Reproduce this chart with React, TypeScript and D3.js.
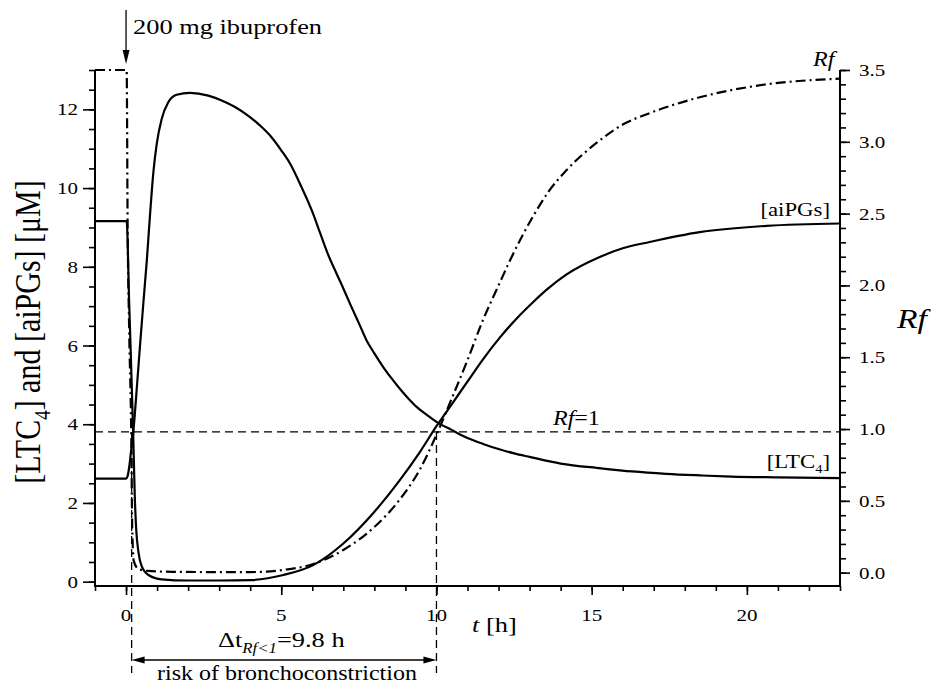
import React, { useEffect, useRef } from 'react';
import * as d3 from 'd3';

// [LTC4] time course (t in h, value in uM)
const ltcT = [-1, 0, 0.05, 0.1, 0.16, 0.23, 0.35, 0.45, 0.56, 0.67, 0.78, 0.88, 0.99, 1.15, 1.36, 1.63, 2.06, 2.65, 3.1, 3.51, 3.95, 4.37, 4.7, 5.0, 5.3, 5.65, 6.0, 6.26, 6.5, 6.78, 7.0, 7.21, 7.5, 7.75, 8.0, 8.28, 8.55, 8.82, 9.1, 9.36, 9.7, 10.0, 10.5, 11.0, 11.5, 12.0, 12.5, 13.0, 14.0, 15.3, 16.3, 17.4, 18.5, 19.5, 21, 23];
const ltcV = [2.62, 2.62, 2.68, 2.9, 3.3, 3.77, 4.95, 6.0, 7.1, 8.17, 9.4, 10.4, 11.13, 11.76, 12.18, 12.37, 12.42, 12.35, 12.22, 12.06, 11.83, 11.55, 11.28, 10.96, 10.6, 10.03, 9.4, 8.84, 8.33, 7.83, 7.45, 7.07, 6.57, 6.13, 5.8, 5.46, 5.17, 4.9, 4.65, 4.44, 4.23, 4.06, 3.85, 3.65, 3.5, 3.37, 3.26, 3.17, 3.0, 2.88, 2.8, 2.74, 2.7, 2.67, 2.65, 2.63];

// [aiPGs] time course
const pgT = [-1, 0.02, 0.1, 0.23, 0.28, 0.33, 0.4, 0.5, 0.72, 1.15, 2.0, 3.0, 4.0, 5.07, 6.03, 7.0, 7.96, 8.82, 9.47, 10.0, 10.53, 10.97, 11.5, 12.04, 12.6, 13.11, 13.6, 14.18, 15.26, 16.0, 16.87, 18.48, 20.63, 23];
const pgV = [9.16, 9.16, 7.1, 3.77, 2.2, 1.3, 0.75, 0.4, 0.17, 0.06, 0.03, 0.03, 0.04, 0.17, 0.42, 0.97, 1.74, 2.58, 3.3, 3.95, 4.55, 5.05, 5.65, 6.2, 6.7, 7.1, 7.45, 7.8, 8.25, 8.47, 8.63, 8.88, 9.04, 9.1];

// Rf (right axis)
const rfT = [-1, 0.02, 0.05, 0.1, 0.17, 0.2, 0.25, 0.4, 0.7, 1.5, 3.0, 4.0, 5.07, 6.03, 7.0, 7.96, 8.82, 9.47, 10.0, 10.43, 11.0, 11.5, 12.0, 12.36, 13.11, 13.6, 14.18, 15.26, 16.0, 16.87, 18.48, 20.63, 23];
const rfV = [3.5, 3.5, 2.45, 1.7, 0.92, 0.3, 0.08, 0.025, 0.012, 0.006, 0.004, 0.004, 0.019, 0.06, 0.158, 0.31, 0.51, 0.72, 0.96, 1.18, 1.48, 1.76, 2.0, 2.17, 2.48, 2.65, 2.8, 3.01, 3.12, 3.2, 3.31, 3.4, 3.44];

// ticks
const xMajor = [0, 5, 10, 15, 20];
const xMinor = d3.range(-1, 23.01, 1);
const leftMajor = [0, 2, 4, 6, 8, 10, 12];
const leftMinor = d3.range(0, 13.01, 0.5);
const rightMajor = [0, 0.5, 1, 1.5, 2, 2.5, 3, 3.5];
const rightMinor = d3.range(0, 3.501, 0.1);

// annotations
const rfThreshold = 0.98;
const riskStart = 0.18;
const riskEnd = 10.0;
const doseTime = 0;

const serif = '"Liberation Serif", "Times New Roman", serif';
const sx = 1.2; // picture is stretched horizontally

const App = () => {
  const svgRef = useRef<SVGSVGElement>(null);

  useEffect(() => {
    const svg = d3.select(svgRef.current);
    svg.selectAll('*').remove();

    const x = d3.scaleLinear().domain([-1, 23]).range([95, 840]);
    const yL = d3.scaleLinear().domain([-0.11, 13]).range([586, 70]);
    const yR = d3.scaleLinear().domain([-0.093, 3.5]).range([586, 70]);

    const put = (px: number, py: number, size: number, anchor = 'start', rot = false) =>
      svg.append('text')
        .attr('transform', rot
          ? `translate(${px},${py}) rotate(-90) scale(1,${sx})`
          : `translate(${px},${py}) scale(${sx},1)`)
        .attr('font-size', size)
        .attr('font-family', serif)
        .attr('text-anchor', anchor)
        .attr('fill', '#000');

    const ticks = (axis: any, values: number[], size: number, transform: string) => {
      const g = svg.append('g').attr('transform', transform);
      g.call(axis.tickValues(values).tickSize(size).tickFormat(() => ''));
      g.select('.domain').remove();
      g.selectAll('line').attr('stroke', '#000').attr('stroke-width', 1.6);
      g.selectAll('text').remove();
    };

    // ticks
    ticks(d3.axisLeft(yL), leftMinor, 6, 'translate(95,0)');
    ticks(d3.axisLeft(yL), leftMajor, 12, 'translate(95,0)');
    ticks(d3.axisRight(yR), rightMinor, 6, 'translate(840,0)');
    ticks(d3.axisRight(yR), rightMajor, 10, 'translate(840,0)');
    ticks(d3.axisBottom(x), xMinor, 5, 'translate(0,586)');
    ticks(d3.axisBottom(x), xMajor, 9, 'translate(0,586)');

    // axis lines
    svg.append('path').attr('d', `M95,${yL(13)}V586H840V${yR(3.5)}`).attr('fill', 'none')
      .attr('stroke', '#000').attr('stroke-width', 2);

    // tick labels
    leftMajor.forEach(v => put(78, yL(v) + 6, 17.5, 'end').text(v));
    rightMajor.forEach(v => put(859, yR(v) + 6, 17.5).text(v.toFixed(1)));
    xMajor.forEach(v => put(x(v), 621, 17.5, 'middle').text(v));

    // left title
    const lt = put(40, 332, 30, 'middle', true);
    lt.append('tspan').text('[LTC');
    lt.append('tspan').attr('font-size', 19).attr('dy', 8).text('4');
    lt.append('tspan').attr('dy', -8).text('] and [aiPGs] [μM]');

    // right title
    put(897, 328, 28).attr('font-style', 'italic').text('Rf');

    // x title
    const xt = put(472, 632, 22);
    xt.append('tspan').attr('font-style', 'italic').text('t');
    xt.append('tspan').text(' [h]');

    // Rf = 1 line and interval markers
    svg.append('line')
      .attr('x1', 95).attr('x2', 840)
      .attr('y1', yR(rfThreshold)).attr('y2', yR(rfThreshold))
      .attr('stroke', '#000').attr('stroke-width', 1.3).attr('stroke-dasharray', '8,5');
    [riskStart, riskEnd].forEach(t => {
      svg.append('line')
        .attr('x1', x(t)).attr('x2', x(t))
        .attr('y1', yR(rfThreshold)).attr('y2', 673)
        .attr('stroke', '#000').attr('stroke-width', 1.3).attr('stroke-dasharray', '8,5');
    });

    // curves
    const mk = (ts: number[], vs: number[], ys: d3.ScaleLinear<number, number>) =>
      d3.line<number>()
        .x((_, i) => x(ts[i]))
        .y(v => ys(v))
        .curve(d3.curveMonotoneX)(vs);

    svg.append('path').attr('d', mk(ltcT, ltcV, yL)).attr('fill', 'none')
      .attr('stroke', '#000').attr('stroke-width', 2.2);
    svg.append('path').attr('d', mk(pgT, pgV, yL)).attr('fill', 'none')
      .attr('stroke', '#000').attr('stroke-width', 2.2);
    svg.append('path').attr('d', mk(rfT, rfV, yR)).attr('fill', 'none')
      .attr('stroke', '#000').attr('stroke-width', 2.2).attr('stroke-dasharray', '10,4,2,4');

    // curve labels
    put(813, 66, 20).attr('font-style', 'italic').text('Rf');
    put(830, 216, 19, 'end').text('[aiPGs]');
    const lc = put(830, 468, 19, 'end');
    lc.append('tspan').text('[LTC');
    lc.append('tspan').attr('font-size', 12).attr('dy', 5).text('4');
    lc.append('tspan').attr('dy', -5).text(']');
    const r1 = put(553, 425, 20);
    r1.append('tspan').attr('font-style', 'italic').text('Rf');
    r1.append('tspan').text('=1');

    // dose arrow
    const xd = x(doseTime);
    svg.append('line').attr('x1', xd).attr('x2', xd).attr('y1', 10).attr('y2', 55)
      .attr('stroke', '#000').attr('stroke-width', 1.3);
    svg.append('path').attr('d', `M${xd - 3.5},50L${xd + 3.5},50L${xd},64Z`).attr('fill', '#000');
    put(133, 34, 22).text('200 mg ibuprofen');

    // risk interval
    const x1 = x(riskStart), x2 = x(riskEnd), ya = 660;
    svg.append('line').attr('x1', x1 + 4).attr('x2', x2 - 4).attr('y1', ya).attr('y2', ya)
      .attr('stroke', '#000').attr('stroke-width', 1.3);
    svg.append('path').attr('d', `M${x1},${ya}L${x1 + 13},${ya - 3.5}L${x1 + 13},${ya + 3.5}Z`).attr('fill', '#000');
    svg.append('path').attr('d', `M${x2},${ya}L${x2 - 13},${ya - 3.5}L${x2 - 13},${ya + 3.5}Z`).attr('fill', '#000');

    const dt = put(218, 647, 22);
    dt.append('tspan').text('Δt');
    dt.append('tspan').attr('font-size', 14).attr('font-style', 'italic').attr('dy', 6).text('Rf<1');
    dt.append('tspan').attr('dy', -6).text('=9.8 h');

    put(287, 680, 20, 'middle').text('risk of bronchoconstriction');
  }, []);

  return (
    <svg
      ref={svgRef}
      width={931}
      height={686}
      style={{ position: 'absolute', left: 0, top: 0, background: '#fff' }}
    />
  );
};

export default App;
